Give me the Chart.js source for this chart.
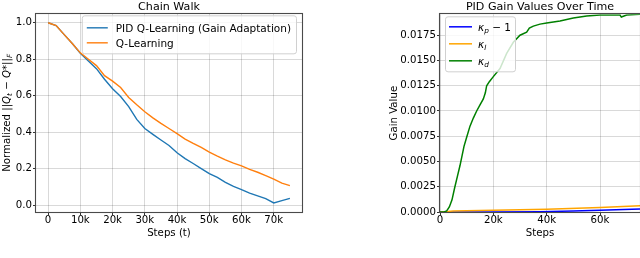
<!DOCTYPE html>
<html><head><meta charset="utf-8">
<script src="https://cdn.jsdelivr.net/npm/chart.js@4/dist/chart.umd.min.js"></script>
<style>
html,body{margin:0;padding:0;background:#fff;overflow:hidden}
#wrap{position:relative;width:640px;height:258px}
.c{position:absolute;top:0;width:320px;height:258px}
</style></head><body>
<div id="wrap">
<div class="c" style="left:0"><canvas id="c1" width="320" height="258"></canvas></div>
<div class="c" style="left:320px"><canvas id="c2" width="320" height="258"></canvas></div>
</div>
<script>
// ---------- Chain Walk data ----------
const chainSteps = [0,2500,5000,7500,10000,12500,15000,17500,20000,22500,25000,27500,30000,32500,35000,37500,40000,42500,45000,47500,50000,52500,55000,57500,60000,62500,65000,67500,70000,72500,75000];
const pidQ = [1.0,0.985,0.935,0.886,0.833,0.79,0.748,0.69,0.638,0.595,0.54,0.47,0.42,0.388,0.357,0.327,0.287,0.255,0.228,0.2,0.172,0.152,0.125,0.102,0.085,0.065,0.05,0.035,0.012,0.024,0.037];
const qLearning = [1.0,0.985,0.935,0.886,0.835,0.8,0.765,0.71,0.68,0.645,0.59,0.55,0.512,0.478,0.448,0.42,0.392,0.362,0.338,0.316,0.29,0.268,0.248,0.23,0.215,0.196,0.18,0.162,0.142,0.12,0.107];
const chainXTicks = [0,10000,20000,30000,40000,50000,60000,70000];
const chainXLabels = ['0','10k','20k','30k','40k','50k','60k','70k'];
const chainYTicks = [0,0.2,0.4,0.6,0.8,1.0];
const chainYLabels = ['0.0','0.2','0.4','0.6','0.8','1.0'];

// ---------- PID gain data ----------
const kdSteps = [0,1500,2500,3500,4500,5500,6500,7500,9000,10000,11250,12500,13750,15000,16250,17000,17500,18500,20000,22500,25000,27500,30000,32500,33500,35000,37500,40000,45000,50000,55000,60000,65000,67500,68000,69000,70000,75000];
const kd = [0,0,0.0001,0.0005,0.0012,0.0024,0.0035,0.0046,0.0065,0.0074,0.0085,0.0093,0.0100,0.0106,0.0112,0.0118,0.0125,0.0129,0.0134,0.0142,0.0157,0.0168,0.0175,0.0178,0.0182,0.0184,0.0186,0.0187,0.0189,0.0192,0.0194,0.0195,0.0195,0.0195,0.0193,0.0194,0.0195,0.01957];
const kiSteps = [0,3000,5000,20000,40000,60000,75000];
const ki = [0,0.00005,0.0001,0.00018,0.00028,0.00045,0.00062];
const kpSteps = [0,20000,37500,50000,60000,75000];
const kpMinus1 = [0,0.00001,0.00003,0.0001,0.00018,0.0003];
const gainXTicks = [0,20000,40000,60000];
const gainXLabels = ['0','20k','40k','60k'];
const gainYTicks = [0,0.0025,0.005,0.0075,0.01,0.0125,0.015,0.0175];
const gainYLabels = ['0.0000','0.0025','0.0050','0.0075','0.0100','0.0125','0.0150','0.0175'];

const FONT = 'DejaVu Sans';
Chart.defaults.font.family = FONT;
Chart.defaults.font.size = 10.2;
Chart.defaults.color = '#000';

function measureParts(ctx, parts, size){
  let w = 0;
  for (const p of parts){
    const s = p.sub ? size*0.7 : size;
    ctx.font = (p.it ? 'italic ' : '') + s + 'px "' + FONT + '"';
    w += ctx.measureText(p.t).width;
  }
  return w;
}
function drawParts(ctx, parts, x, baseY, size){
  let cx = x;
  ctx.textBaseline = 'alphabetic';
  ctx.textAlign = 'left';
  for (const p of parts){
    const s = p.sub ? size*0.7 : size;
    ctx.font = (p.it ? 'italic ' : '') + s + 'px "' + FONT + '"';
    const dy = p.sub ? size*0.22 : 0;
    ctx.fillText(p.t, cx, baseY + dy);
    cx += ctx.measureText(p.t).width;
  }
}
function drawLegend(chart, cfg){
  const ctx = chart.ctx, a = chart.chartArea, size = cfg.size;
  ctx.save();
  let w = 0;
  cfg.items.forEach(it => { w = Math.max(w, measureParts(ctx, it.parts, size)); });
  const bw = cfg.pad + cfg.handle + cfg.gap + w + cfg.pad;
  const bh = cfg.items.length * cfg.rowH + cfg.padY*2;
  const bx = cfg.corner === 'ur' ? a.right - cfg.edge - bw : a.left + cfg.edge;
  const by = a.top + cfg.top;
  ctx.beginPath();
  ctx.roundRect(bx+0.5, by+0.5, bw, bh, 2.5);
  ctx.fillStyle = 'rgba(255,255,255,0.8)';
  ctx.fill();
  ctx.strokeStyle = '#d0d0d0';
  ctx.lineWidth = 1;
  ctx.stroke();
  cfg.items.forEach((it, i) => {
    const cy = by + cfg.padY + cfg.rowH*(i+0.5) + cfg.shift;
    ctx.beginPath();
    ctx.moveTo(bx + cfg.pad, cy);
    ctx.lineTo(bx + cfg.pad + cfg.handle, cy);
    ctx.strokeStyle = it.color;
    ctx.lineWidth = it.lw;
    ctx.stroke();
    ctx.fillStyle = '#000';
    drawParts(ctx, it.parts, bx + cfg.pad + cfg.handle + cfg.gap, cy + size*0.36, size);
  });
  ctx.restore();
}
const framePlugin = {
  id: 'frame',
  afterDatasetsDraw(chart){
    const ctx = chart.ctx, a = chart.chartArea;
    ctx.save();
    ctx.strokeStyle = '#4a4a4a';
    ctx.lineWidth = 1.1;
    ctx.strokeRect(Math.round(a.left)-0.5, Math.round(a.top)-0.5, Math.round(a.right)-Math.round(a.left)+1, Math.round(a.bottom)-Math.round(a.top)+1);
    ctx.restore();
  },
  afterDraw(chart){
    const o = chart.options.plugins.frame || {};
    if (o.legend) drawLegend(chart, o.legend);
    if (o.yTitle){
      const ctx = chart.ctx, a = chart.chartArea, size = 10.2;
      ctx.save();
      const w = measureParts(ctx, o.yTitle, size);
      ctx.translate(o.yTitleX, (a.top + a.bottom)/2);
      ctx.rotate(-Math.PI/2);
      ctx.fillStyle = '#000';
      drawParts(ctx, o.yTitle, -w/2, size*0.36, size);
      ctx.restore();
    }
  }
};

const gridOpts = { color: 'rgba(0,0,0,0.15)', lineWidth: 1, tickLength: 3, tickColor: '#333', tickWidth: 1, drawTicks: true };
function xScale(min, max, vals, labels, title){
  return {
    type: 'linear', min, max,
    afterBuildTicks: s => { s.ticks = vals.map(v => ({value: v})); },
    afterFit: s => { s.height = 46; },
    ticks: { callback: (v, i) => labels[i], autoSkip: false, maxRotation: 0, padding: 0, font: {size: 10.2, lineHeight: 1}, color: '#000' },
    grid: gridOpts, border: {display: false},
    title: { display: true, text: title, font: {size: 10.2}, color: '#000', padding: {top: 0, bottom: 19} }
  };
}
function yScale(min, max, vals, labels, width, title, tpad){
  const s = {
    type: 'linear', min, max,
    afterBuildTicks: s => { s.ticks = vals.map(v => ({value: v})); },
    afterFit: s => { s.width = width; },
    ticks: { callback: (v, i) => labels[i], autoSkip: false, padding: 1, font: {size: 10.2}, color: '#000' },
    grid: gridOpts, border: {display: false}
  };
  if (title) s.title = { display: true, text: title, font: {size: 10.2}, color: '#000', padding: {top: tpad, bottom: 0} };
  return s;
}
const pts = (xs, ys) => xs.map((x, i) => ({x, y: ys[i]}));

new Chart(document.getElementById('c1'), {
  type: 'line',
  data: { datasets: [
    { label: 'PID Q-Learning (Gain Adaptation)', data: pts(chainSteps, pidQ), borderColor: '#1f77b4', borderWidth: 1.4, pointRadius: 0, tension: 0, order: 1 },
    { label: 'Q-Learning', data: pts(chainSteps, qLearning), borderColor: '#ff7f0e', borderWidth: 1.4, pointRadius: 0, tension: 0, order: 0 }
  ]},
  options: {
    responsive: false, animation: false, events: [], devicePixelRatio: 1,
    layout: { padding: {left: 0, right: 18, top: 0, bottom: 0} },
    scales: {
      x: xScale(-3750, 78750, chainXTicks, chainXLabels, 'Steps (t)'),
      y: yScale(-0.038, 1.049, chainYTicks, chainYLabels, 36)
    },
    plugins: {
      legend: {display: false}, tooltip: {enabled: false},
      title: { display: true, fullSize: false, text: 'Chain Walk', font: {size: 11.1, weight: 'normal'}, color: '#000', padding: {top: 0, bottom: 0.5} },
      frame: {
        yTitleX: 6,
        yTitle: [{t: 'Normalized ||'}, {t: 'Q', it: true}, {t: 't', it: true, sub: true}, {t: ' − '}, {t: 'Q', it: true}, {t: '*'}, {t: '||'}, {t: 'F', it: true, sub: true}],
        legend: { corner: 'ur', edge: 6, top: 1.5, pad: 5, padY: 4, handle: 21, gap: 8, rowH: 15, shift: 1, size: 10.5,
          items: [
            {parts: [{t: 'PID Q-Learning (Gain Adaptation)'}], color: '#1f77b4', lw: 1.4},
            {parts: [{t: 'Q-Learning'}], color: '#ff7f0e', lw: 1.4}
          ] }
      }
    }
  },
  plugins: [framePlugin]
});

new Chart(document.getElementById('c2'), {
  type: 'line',
  data: { datasets: [
    { label: 'κp − 1', data: pts(kpSteps, kpMinus1), borderColor: '#0000ff', borderWidth: 1.5, pointRadius: 0, tension: 0, order: 2 },
    { label: 'κI', data: pts(kiSteps, ki), borderColor: '#ffa500', borderWidth: 1.5, pointRadius: 0, tension: 0, order: 1 },
    { label: 'κd', data: pts(kdSteps, kd), borderColor: '#008000', borderWidth: 1.5, pointRadius: 0, tension: 0, order: 0 }
  ]},
  options: {
    responsive: false, animation: false, events: [], devicePixelRatio: 1,
    layout: { padding: {left: 0, right: 0, top: 0, bottom: 0} },
    scales: {
      x: xScale(0, 75000, gainXTicks, gainXLabels, 'Steps'),
      y: yScale(0, 0.01957, gainYTicks, gainYLabels, 120, 'Gain Value', 68)
    },
    plugins: {
      legend: {display: false}, tooltip: {enabled: false},
      title: { display: true, fullSize: false, text: 'PID Gain Values Over Time', font: {size: 11.1, weight: 'normal'}, color: '#000', padding: {top: 0, bottom: 1} },
      frame: {
        legend: { corner: 'ul', edge: 5, top: 2, pad: 4, padY: 2, handle: 23, gap: 6, rowH: 17, shift: 0, size: 10.5,
          items: [
            {parts: [{t: 'κ', it: true}, {t: 'p', it: true, sub: true}, {t: ' − 1'}], color: '#0000ff', lw: 1.5},
            {parts: [{t: 'κ', it: true}, {t: 'I', it: true, sub: true}], color: '#ffa500', lw: 1.5},
            {parts: [{t: 'κ', it: true}, {t: 'd', it: true, sub: true}], color: '#008000', lw: 1.5}
          ] }
      }
    }
  },
  plugins: [framePlugin]
});
</script>
</body></html>
